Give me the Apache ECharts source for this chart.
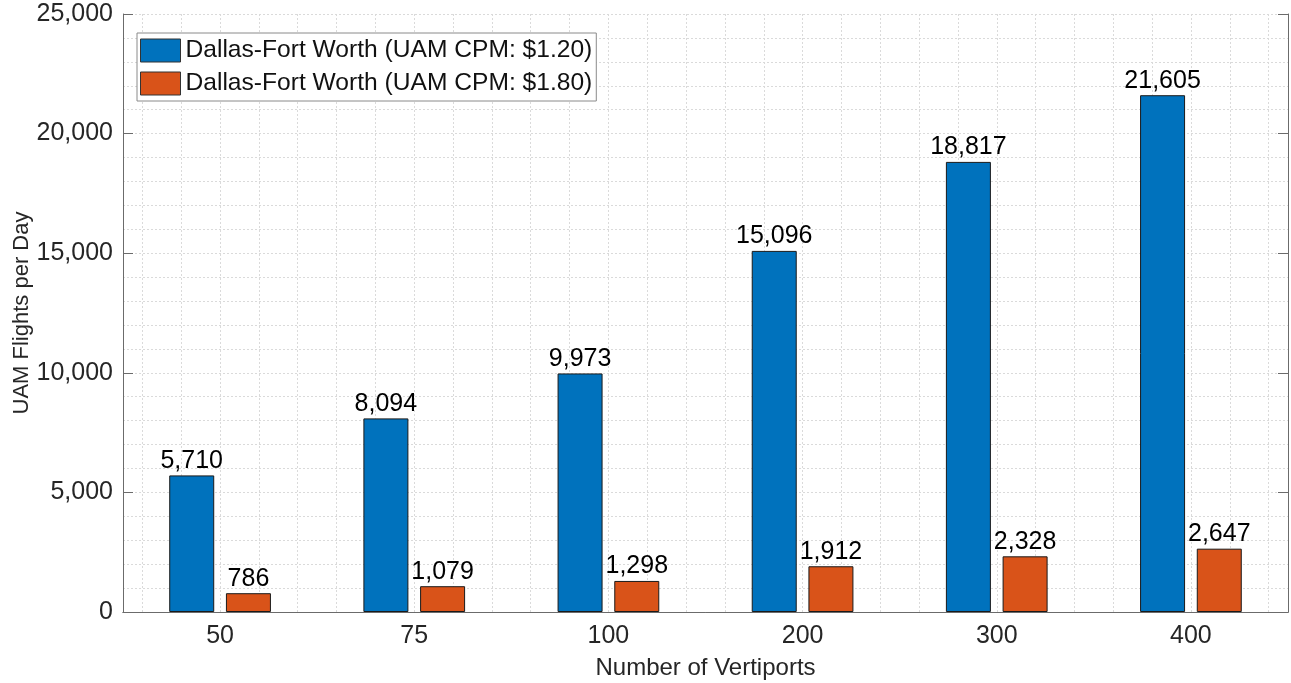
<!DOCTYPE html>
<html>
<head>
<meta charset="utf-8">
<script src="https://cdn.jsdelivr.net/npm/echarts@6/dist/echarts.min.js"></script>
<style>
  html, body { margin: 0; padding: 0; background: #fff; }
  #main { width: 1291px; height: 683px; }
</style>
</head>
<body>
<div id="main"></div>
<script>
var vertiports = ["50", "75", "100", "200", "300", "400"];
var flightsCpm120 = [5710, 8094, 9973, 15096, 18817, 21605];
var flightsCpm180 = [786, 1079, 1298, 1912, 2328, 2647];
var seriesNames = [
  "Dallas-Fort Worth (UAM CPM: $1.20)",
  "Dallas-Fort Worth (UAM CPM: $1.80)"
];

var FONT = "Liberation Sans, Arial, Helvetica, sans-serif";
var axisColor = "#6b6b6b";
var gridColor = "#dadada";
var blue = "#0072BD";
var orange = "#D95319";

var chart = echarts.init(document.getElementById("main"));

function fmt(v) {
  return Number(v).toLocaleString("en-US");
}

var barLabel = {
  show: true,
  position: "top",
  distance: 2,
  color: "#000",
  fontFamily: FONT,
  fontSize: 25,
  formatter: function (p) { return fmt(p.value); }
};

var option = {
  animation: false,
  backgroundColor: "#fff",
  textStyle: { fontFamily: FONT },
  legend: {
    orient: "vertical",
    left: 137,
    top: 33,
    data: seriesNames,
    icon: "rect",
    itemWidth: 40,
    itemHeight: 23,
    itemGap: 8,
    padding: [5, 4, 5, 3],
    borderColor: "#8a8a8a",
    borderWidth: 1,
    backgroundColor: "#fff",
    itemStyle: { borderColor: "#333", borderWidth: 1 },
    textStyle: { fontFamily: FONT, fontSize: 24.6, color: "#111", lineHeight: 23 },
    z: 10
  },
  grid: [
    { left: 123, right: 3, top: 14, bottom: 71, outerBoundsMode: "none" },
    { left: 142.4, right: 22.4, top: 14, bottom: 71, outerBoundsMode: "none" }
  ],
  xAxis: [
    {
      type: "category",
      gridIndex: 0,
      data: vertiports,
      name: "Number of Vertiports",
      nameLocation: "middle",
      nameGap: 44,
      nameMoveOverlap: false,
      nameTextStyle: { fontFamily: FONT, fontSize: 24, color: "#262626" },
      axisLine: { lineStyle: { color: axisColor, width: 1 } },
      axisTick: { inside: true, alignWithLabel: true, length: 8, lineStyle: { color: axisColor } },
      axisLabel: { fontFamily: FONT, fontSize: 25, color: "#262626", margin: 12 },
      splitLine: { show: false }
    },
    {
      type: "category",
      gridIndex: 0,
      position: "top",
      data: vertiports,
      axisLine: { lineStyle: { color: axisColor, width: 1 } },
      axisTick: { inside: true, alignWithLabel: true, length: 8, lineStyle: { color: axisColor } },
      axisLabel: { show: false },
      splitLine: { show: false }
    },
    {
      type: "value",
      gridIndex: 1,
      min: 0,
      max: 29,
      interval: 1,
      axisLine: { show: false },
      axisTick: { show: false },
      axisLabel: { show: false },
      splitLine: { show: true, lineStyle: { color: gridColor, type: [2, 2], width: 1 } }
    }
  ],
  yAxis: [
    {
      type: "value",
      gridIndex: 0,
      min: 0,
      max: 25000,
      interval: 5000,
      name: "UAM Flights per Day",
      nameLocation: "middle",
      nameGap: 90,
      nameMoveOverlap: false,
      nameTextStyle: { fontFamily: FONT, fontSize: 22, color: "#262626" },
      axisLine: { show: true, lineStyle: { color: axisColor, width: 1 } },
      axisTick: { show: true, inside: true, length: 10, lineStyle: { color: axisColor } },
      axisLabel: {
        fontFamily: FONT, fontSize: 25, color: "#262626", margin: 10,
        formatter: function (v) { return fmt(v); }
      },
      splitLine: { show: true, lineStyle: { color: gridColor, type: [2, 2], width: 1 } },
      minorTick: { show: false, splitNumber: 5 },
      minorSplitLine: { show: true, lineStyle: { color: gridColor, type: [2, 2], width: 1 } }
    },
    {
      type: "value",
      gridIndex: 0,
      position: "right",
      min: 0,
      max: 25000,
      interval: 5000,
      axisLine: { show: true, lineStyle: { color: axisColor, width: 1 } },
      axisTick: { show: true, inside: true, length: 10, lineStyle: { color: axisColor } },
      axisLabel: { show: false },
      splitLine: { show: false }
    },
    {
      type: "value",
      gridIndex: 1,
      min: 0,
      max: 1,
      show: false
    }
  ],
  series: [
    {
      name: seriesNames[0],
      type: "bar",
      xAxisIndex: 0,
      yAxisIndex: 0,
      data: flightsCpm120,
      barWidth: 45,
      barGap: "26%",
      itemStyle: { color: blue, borderColor: "#1a1a1a", borderWidth: 1 },
      label: barLabel,
      z: 3
    },
    {
      name: seriesNames[1],
      type: "bar",
      xAxisIndex: 0,
      yAxisIndex: 0,
      data: flightsCpm180,
      barWidth: 45,
      barGap: "26%",
      itemStyle: { color: orange, borderColor: "#1a1a1a", borderWidth: 1 },
      label: barLabel,
      z: 3
    }
  ]
};

chart.setOption(option);
</script>
</body>
</html>
